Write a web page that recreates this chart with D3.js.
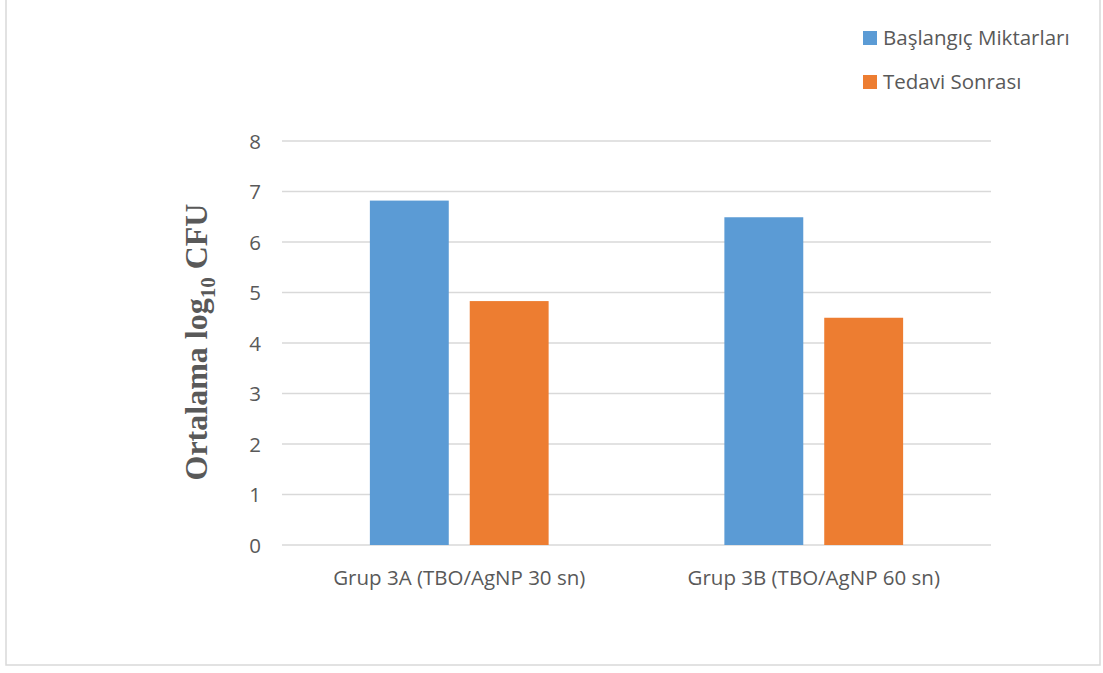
<!DOCTYPE html>
<html>
<head>
<meta charset="utf-8">
<script src="https://cdn.jsdelivr.net/npm/d3@7"></script>
<style>
  html, body { margin: 0; padding: 0; background: #fff; }
  svg { display: block; }
</style>
</head>
<body>
<svg id="chart" width="1103" height="673"></svg>
<script>
// Groups along the x axis
const categories = ["Grup 3A (TBO/AgNP 30 sn)", "Grup 3B (TBO/AgNP 60 sn)"];
// Series names (legend order)
const seriesNames = ["Başlangıç Miktarları", "Tedavi Sonrası"];
// Mean log10 CFU per group, one array per series
const baslangic = [6.82, 6.49];
const tedaviSonrasi = [4.83, 4.50];
// Y axis ticks
const yTicks = [0, 1, 2, 3, 4, 5, 6, 7, 8];

const colors = ["#5B9BD5", "#ED7D31"];
const textColor = "#595959";
const font = "'Open Sans', sans-serif";
const fontSize = 20.5;

const svg = d3.select("#chart");

// Outer frame
svg.append("rect")
  .attr("x", 6).attr("y", -4)
  .attr("width", 1094).attr("height", 669)
  .attr("fill", "none")
  .attr("stroke", "#d9d9d9")
  .attr("stroke-width", 1.5);

const plot = { left: 282, right: 991, top: 141, bottom: 545 };

const x0 = d3.scaleBand()
  .domain(categories)
  .range([plot.left, plot.right])
  .paddingInner(0)
  .paddingOuter(0);

const x1 = d3.scaleBand()
  .domain(seriesNames)
  .range([0, x0.bandwidth()])
  .paddingInner(0.21)
  .paddingOuter(0.88);

const y = d3.scaleLinear()
  .domain([0, 8])
  .range([plot.bottom, plot.top]);

// Horizontal gridlines
svg.append("g")
  .selectAll("line")
  .data(yTicks)
  .join("line")
  .attr("x1", plot.left).attr("x2", plot.right)
  .attr("y1", d => y(d)).attr("y2", d => y(d))
  .attr("stroke", "#d9d9d9")
  .attr("stroke-width", 1.5);

// Y axis labels
const yAxis = d3.axisLeft(y).tickValues(yTicks).tickSize(0).tickPadding(0);
const gy = svg.append("g")
  .attr("transform", `translate(${plot.left - 21},0)`)
  .call(yAxis);
gy.select(".domain").remove();
gy.selectAll("text")
  .attr("font-family", font)
  .attr("font-size", fontSize)
  .attr("fill", textColor)
  .attr("dy", "0.35em");

// Bars
const series = [baslangic, tedaviSonrasi];
const groups = svg.append("g")
  .selectAll("g")
  .data(categories)
  .join("g")
  .attr("transform", d => `translate(${x0(d)},0)`);

groups.selectAll("rect")
  .data((c, i) => seriesNames.map((s, j) => ({ s, v: series[j][i], j })))
  .join("rect")
  .attr("x", d => x1(d.s))
  .attr("width", x1.bandwidth())
  .attr("y", d => y(d.v))
  .attr("height", d => y(0) - y(d.v))
  .attr("fill", d => colors[d.j]);

// X axis labels
const xAxis = d3.axisBottom(x0).tickSize(0).tickPadding(0);
const gx = svg.append("g")
  .attr("transform", `translate(0,${plot.bottom + 33})`)
  .call(xAxis);
gx.select(".domain").remove();
gx.selectAll("text")
  .attr("font-family", font)
  .attr("font-size", fontSize)
  .attr("fill", textColor)
  .attr("dy", "0.35em");

// Y axis title
const title = svg.append("text")
  .attr("transform", `translate(207,${(plot.top + plot.bottom) / 2 - 1}) rotate(-90)`)
  .attr("text-anchor", "middle")
  .attr("font-family", "'Liberation Serif', 'Times New Roman', serif")
  .attr("font-weight", "bold")
  .attr("font-size", 32)
  .attr("fill", textColor);
title.append("tspan").text("Ortalama log");
title.append("tspan").attr("font-size", 21).attr("dy", 8).text("10");
title.append("tspan").attr("dy", -8).text(" CFU");

// Legend
const legend = svg.append("g")
  .selectAll("g")
  .data(seriesNames)
  .join("g")
  .attr("transform", (d, i) => `translate(863,${31 + i * 44})`);
legend.append("rect")
  .attr("width", 14).attr("height", 14)
  .attr("fill", (d, i) => colors[i]);
legend.append("text")
  .attr("x", 20).attr("y", 7)
  .attr("dy", "0.35em")
  .attr("font-family", font)
  .attr("font-size", fontSize)
  .attr("fill", textColor)
  .text(d => d);
</script>
</body>
</html>
